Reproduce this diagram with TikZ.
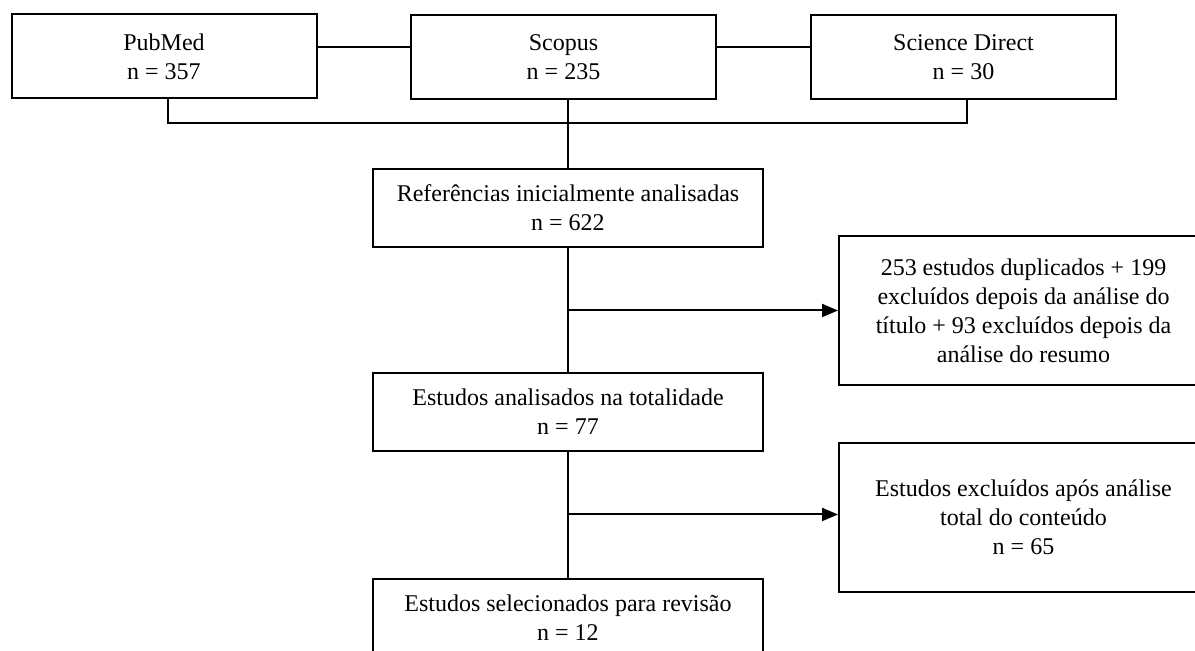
\documentclass[tikz,border=0pt]{standalone}
\usepackage{fontspec}
\setmainfont{Liberation Serif}
\usetikzlibrary{arrows.meta}

\begin{document}
\begin{tikzpicture}[x=0.5pt, y=-0.5pt, line width=1pt,
		caixa/.style={draw, align=center, inner sep=0pt, font=\fontsize{12}{14.5}\selectfont},
		fonte/.style={caixa, minimum width=152.5pt, minimum height=42pt},
		etapa/.style={caixa, minimum width=195pt, minimum height=39pt},
		exclusao/.style={caixa, minimum width=184.5pt, minimum height=74.5pt},
		seta/.style={-{Triangle[length=8pt, width=6.5pt]}}]
		\useasboundingbox (0,0) rectangle (1195,651);
		% bases de dados
		\node[fonte] (pubmed) at (164,56.5) {PubMed\\n = 357};
		\node[fonte] (scopus) at (563.5,57.5) {Scopus\\n = 235};
		\node[fonte] (sciencedirect) at (963.5,57) {Science Direct\\n = 30};
		% etapas
		\node[etapa] (referencias) at (568,208) {Referências inicialmente analisadas\\n = 622};
		\node[etapa] (analisados) at (568,412) {Estudos analisados na totalidade\\n = 77};
		\node[etapa] (selecionados) at (568,618) {Estudos selecionados para revisão\\n = 12};
		\node[exclusao] (excluidos1) at (1023.5,310.5) {253 estudos duplicados + 199\\excluídos depois da análise do\\título + 93 excluídos depois da\\análise do resumo};
		\node[exclusao] (excluidos2) at (1023.5,517.5) {Estudos excluídos após análise\\total do conteúdo\\n = 65};
		\coordinate (juncao) at (568,123.5);
		\coordinate (ramo1) at (568,310.5);
		\coordinate (ramo2) at (568,514.5);
		\draw (pubmed.east |- 0,47) -- (scopus.west |- 0,47);
		\draw (scopus.east |- 0,47) -- (sciencedirect.west |- 0,47);
		\draw ([xshift=2pt]pubmed.south) |- (juncao) -| ([xshift=1.75pt]sciencedirect.south);
		\draw (scopus.south -| referencias.north) -- (referencias.north);
		\draw (referencias) -- (analisados);
		\draw (analisados) -- (selecionados);
		\draw[seta] (ramo1) -- (ramo1 -| excluidos1.west);
		\draw[seta] (ramo2) -- (ramo2 -| excluidos2.west);
	\end{tikzpicture}
\end{document}
